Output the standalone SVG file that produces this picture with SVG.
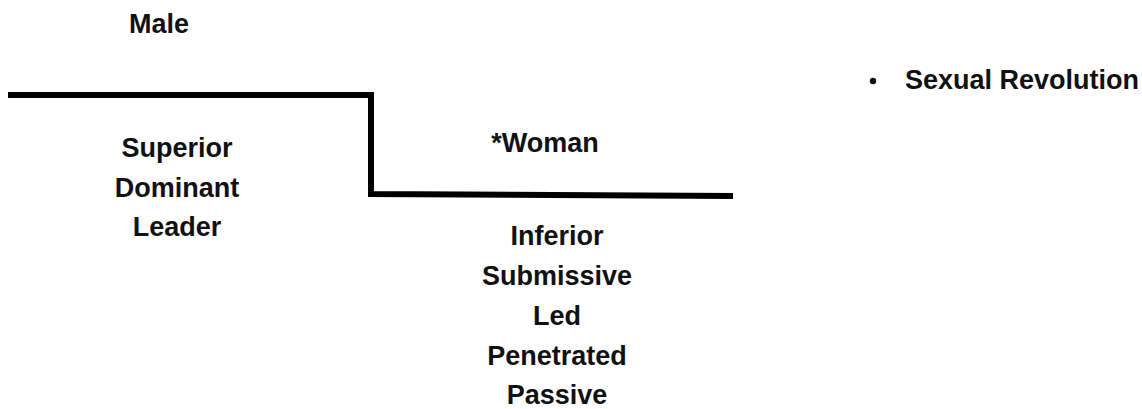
<svg xmlns="http://www.w3.org/2000/svg" width="1142" height="409" viewBox="0 0 1142 409">
<style>
.t{font-family:"Liberation Sans",Arial,sans-serif;font-weight:bold;font-size:27px;fill:#111;text-anchor:middle}
.b{text-anchor:start}
.ln{fill:none;stroke:#000;stroke-width:6;stroke-linejoin:miter}
</style>
<rect width="1142" height="409" fill="#fff"/>
<g id="connectors">
<polyline class="ln" points="8,95 371,95 371,194 733,196"/>
</g>
<g id="male">
<text class="t" x="159" y="33">Male</text>
</g>
<g id="male-traits">
<text class="t" x="177" y="157">Superior</text>
<text class="t" x="177" y="197">Dominant</text>
<text class="t" x="177" y="236">Leader</text>
</g>
<g id="woman">
<text class="t" x="545" y="152">*Woman</text>
</g>
<g id="woman-traits">
<text class="t" x="557" y="245">Inferior</text>
<text class="t" x="557" y="285">Submissive</text>
<text class="t" x="557" y="325">Led</text>
<text class="t" x="557" y="365">Penetrated</text>
<text class="t" x="557" y="404">Passive</text>
</g>
<g id="bullet">
<circle cx="873" cy="81" r="3.2" fill="#111"/>
<text class="t b" x="905" y="89">Sexual Revolution</text>
</g>
</svg>
